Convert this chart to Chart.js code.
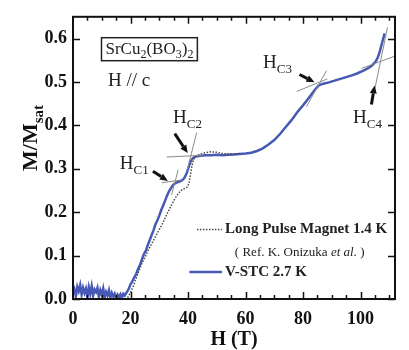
<!DOCTYPE html>
<html>
<head>
<meta charset="utf-8">
<script src="https://cdn.jsdelivr.net/npm/chart.js@4.4.1/dist/chart.umd.min.js"></script>
<style>
    html, body { margin: 0; padding: 0; background: #fff; }
</style>
</head>
<body>
<canvas id="chart" width="409" height="350"></canvas>
<script>
// V-STC 2.7 K run: field (T) and M/Msat
const stcField = [
    0, 0.5, 1, 1.5, 2, 2.5, 3, 3.5, 4, 4.5, 5, 5.5, 6, 6.5, 7, 7.5, 8, 8.5, 9, 9.5,
    10, 10.5, 11, 11.5, 12, 12.5, 13, 13.5, 14, 14.5, 15, 15.5, 16, 16.5, 17, 17.5, 18,
    18.7, 19.3, 20, 20.6, 21.2, 22, 22.7, 23.4, 24, 24.7, 25.4, 26, 26.7, 27.4, 28, 28.7,
    29.4, 30, 30.7, 31.4, 32, 32.7, 33.4, 34, 34.7, 35.4, 36, 36.8, 37.6, 38.4, 39, 39.6,
    40.2, 40.8, 41.4, 42, 43, 44.5, 46, 48, 50, 52, 54, 56, 58, 60, 62, 64, 66, 68, 70,
    72, 74, 76, 78, 80, 82, 84, 85.5, 87, 89, 91, 93, 95, 97, 99, 101, 102.5, 104,
    105.2, 106, 106.7, 107.3, 107.9, 108.4
];
const stcMag = [
    0.012, 0.022, 0.006, 0.028, 0.018, 0.032, 0.010, 0.026, 0.014, 0.024, 0.004, 0.027,
    0.012, 0.030, 0.008, 0.022, 0.016, 0.026, 0.005, 0.020, 0.010, 0.024, 0.003, 0.016,
    0.008, 0.020, 0.002, 0.014, 0.006, 0.012, 0.001, 0.010, 0.004, 0.011, 0.003, 0.012, 0.008,
    0.016, 0.022, 0.034, 0.040, 0.048, 0.058, 0.070, 0.080, 0.092, 0.104, 0.112, 0.124,
    0.136, 0.148, 0.158, 0.172, 0.182, 0.192, 0.205, 0.216, 0.226, 0.238, 0.248, 0.255,
    0.262, 0.266, 0.268, 0.270, 0.272, 0.276, 0.282, 0.291, 0.303, 0.315, 0.322, 0.326,
    0.329, 0.330, 0.331, 0.331, 0.332, 0.331, 0.332, 0.333, 0.334, 0.335, 0.337, 0.341,
    0.347, 0.356, 0.366, 0.380, 0.396, 0.412, 0.430, 0.446, 0.463, 0.481, 0.492, 0.496,
    0.499, 0.503, 0.507, 0.511, 0.515, 0.520, 0.526, 0.531, 0.538, 0.546, 0.556, 0.570,
    0.585, 0.600, 0.612
];

// Long pulse magnet 1.4 K (Onizuka et al.)
const lpField = [
    19, 20, 21, 22, 23, 24, 25, 26, 27, 28, 29, 30, 31, 32, 33, 34, 35, 36, 37, 38, 39,
    39.8, 40.4, 40.9, 41.4, 42, 43, 44.5, 46, 48, 50, 52, 54, 56, 58
];
const lpMag = [
    0.003, 0.015, 0.030, 0.048, 0.066, 0.082, 0.096, 0.110, 0.123, 0.135, 0.148, 0.160,
    0.172, 0.186, 0.200, 0.213, 0.226, 0.237, 0.246, 0.252, 0.255, 0.258, 0.268, 0.288,
    0.308, 0.322, 0.330, 0.334, 0.337, 0.339, 0.338, 0.335, 0.334, 0.334, 0.335
];

// tangent lines at the critical fields: [H1, M1, H2, M2]
const tangents = [
    [30.8, 0.268, 37.8, 0.274], [34.3, 0.240, 36.6, 0.298],
    [32.6, 0.327, 45.1, 0.331], [39.6, 0.294, 43.0, 0.383],
    [77.8, 0.478, 88.5, 0.507], [81.2, 0.443, 88.2, 0.526],
    [100.3, 0.531, 111.8, 0.559], [104.9, 0.481, 109.4, 0.626]
];

// critical field labels and arrows (data units)
const hcNames = ['C1', 'C2', 'C3', 'C4'];
const hcLabelPos = [[16.3, 0.300], [34.8, 0.405], [66.1, 0.532], [97.4, 0.405]];
const arrowFrom = [[27.8, 0.294], [35.4, 0.381], [78.8, 0.517], [103.8, 0.448]];
const arrowTo = [[33.0, 0.272], [39.9, 0.336], [84.0, 0.499], [104.9, 0.492]];

const xTicks = [0, 20, 40, 60, 80, 100];
const yTicks = [0, 0.1, 0.2, 0.3, 0.4, 0.5, 0.6];

const SERIF = '"Liberation Serif", "Times New Roman", serif';
const BLUE = '#4659b4';

function toPoints(xs, ys) {
    return xs.map((v, i) => ({ x: v, y: ys[i] }));
}

// draw a run of text pieces, some as subscripts or italics
function drawParts(ctx, parts, x0, y0, size, subSize, weight) {
    let cx = x0;
    parts.forEach(p => {
        const s = p.sub ? subSize : size;
        ctx.font = `${p.italic ? 'italic ' : ''}${weight || 'normal'} ${s}px ${SERIF}`;
        ctx.fillText(p.t, cx, y0 + (p.sub ? size * 0.27 : 0));
        cx += ctx.measureText(p.t).width;
    });
    return cx - x0;
}

function drawArrow(ctx, x1, y1, x2, y2) {
    const ang = Math.atan2(y2 - y1, x2 - x1);
    const head = 8;
    ctx.beginPath();
    ctx.lineWidth = 3;
    ctx.moveTo(x1, y1);
    ctx.lineTo(x2 - head * Math.cos(ang), y2 - head * Math.sin(ang));
    ctx.stroke();
    ctx.beginPath();
    ctx.moveTo(x2, y2);
    ctx.lineTo(x2 - head * Math.cos(ang) + 3.5 * Math.sin(ang), y2 - head * Math.sin(ang) - 3.5 * Math.cos(ang));
    ctx.lineTo(x2 - head * Math.cos(ang) - 3.5 * Math.sin(ang), y2 - head * Math.sin(ang) + 3.5 * Math.cos(ang));
    ctx.closePath();
    ctx.fill();
}

const decor = {
    id: 'decor',
    afterDatasetsDraw(chart) {
        const { ctx, chartArea: a, scales: { x, y } } = chart;
        ctx.save();

        // frame
        ctx.strokeStyle = '#111';
        ctx.lineWidth = 2;
        ctx.strokeRect(a.left, a.top, a.right - a.left, a.bottom - a.top);

        // inward ticks
        ctx.lineWidth = 1.5;
        ctx.beginPath();
        yTicks.forEach(v => {
            const py = Math.round(y.getPixelForValue(v)) + 0.5;
            ctx.moveTo(a.left, py); ctx.lineTo(a.left + 7, py);
            ctx.moveTo(a.right, py); ctx.lineTo(a.right - 7, py);
        });
        for (let v = 5; v < 112; v += 5) {
            const px = Math.round(x.getPixelForValue(v)) + 0.5;
            const len = v % 20 === 0 ? 7 : 4;
            ctx.moveTo(px, a.bottom); ctx.lineTo(px, a.bottom - len);
            ctx.moveTo(px, a.top); ctx.lineTo(px, a.top + len);
        }
        ctx.stroke();

        // y axis title M/Msat
        ctx.fillStyle = '#111';
        ctx.save();
        ctx.translate(37, 138);
        ctx.rotate(-Math.PI / 2);
        ctx.textBaseline = 'alphabetic';
        ctx.font = `bold 22px ${SERIF}`;
        const w1 = ctx.measureText('M/M').width;
        ctx.font = `bold 15px ${SERIF}`;
        const w2 = ctx.measureText('sat').width;
        drawParts(ctx, [{ t: 'M/M' }, { t: 'sat', sub: true }], -(w1 + w2) / 2, 0, 22, 15, 'bold');
        ctx.restore();

        // sample label box
        ctx.fillStyle = '#222';
        ctx.textBaseline = 'alphabetic';
        const bx = x.getPixelForValue(11.3), by = y.getPixelForValue(0.565);
        const bw = drawParts(ctx, [
            { t: 'SrCu' }, { t: '2', sub: true }, { t: '(BO' }, { t: '3', sub: true },
            { t: ')' }, { t: '2', sub: true }
        ], bx, by, 17, 12);
        ctx.strokeStyle = '#222';
        ctx.lineWidth = 1.5;
        ctx.strokeRect(bx - 4, by - 16, bw + 8, 23);

        drawParts(ctx, [{ t: 'H // c' }], x.getPixelForValue(12.2), y.getPixelForValue(0.49), 19, 13);

        // critical field labels
        hcNames.forEach((n, i) => {
            drawParts(ctx, [{ t: 'H' }, { t: n, sub: true }],
                x.getPixelForValue(hcLabelPos[i][0]), y.getPixelForValue(hcLabelPos[i][1]), 19, 13);
        });

        // arrows
        ctx.strokeStyle = '#111';
        ctx.fillStyle = '#111';
        arrowFrom.forEach((f, i) => {
            drawArrow(ctx, x.getPixelForValue(f[0]), y.getPixelForValue(f[1]),
                x.getPixelForValue(arrowTo[i][0]), y.getPixelForValue(arrowTo[i][1]));
        });

        // legend
        const lx = x.getPixelForValue(43.1), lx2 = x.getPixelForValue(51.8);
        const ly1 = y.getPixelForValue(0.16), ly3 = y.getPixelForValue(0.062);
        ctx.lineWidth = 1.5;
        ctx.strokeStyle = '#444';
        ctx.setLineDash([1.5, 1.5]);
        ctx.beginPath(); ctx.moveTo(lx, ly1); ctx.lineTo(lx2, ly1); ctx.stroke();
        ctx.setLineDash([]);
        ctx.strokeStyle = BLUE;
        ctx.lineWidth = 2.5;
        ctx.beginPath(); ctx.moveTo(x.getPixelForValue(40.5), ly3); ctx.lineTo(lx2, ly3); ctx.stroke();

        ctx.fillStyle = '#222';
        ctx.textBaseline = 'middle';
        const tx = x.getPixelForValue(52.9);
        drawParts(ctx, [{ t: 'Long Pulse Magnet 1.4 K' }], tx, ly1, 15, 10, 'bold');
        drawParts(ctx, [{ t: '( Ref. K. Onizuka ' }, { t: 'et al.', italic: true }, { t: ' )' }],
            x.getPixelForValue(56.3), y.getPixelForValue(0.108), 13, 10);
        drawParts(ctx, [{ t: 'V-STC 2.7 K' }], tx, ly3, 15, 10, 'bold');

        ctx.restore();
    }
};

new Chart(document.getElementById('chart'), {
    type: 'line',
    data: {
        datasets: [
            ...tangents.map(t => ({
                data: [{ x: t[0], y: t[1] }, { x: t[2], y: t[3] }],
                borderColor: '#8a8a8a',
                borderWidth: 1,
                pointRadius: 0
            })),
            {
                label: 'Long Pulse Magnet 1.4 K',
                data: toPoints(lpField, lpMag),
                borderColor: '#4a4a4a',
                borderWidth: 1.5,
                borderDash: [1.5, 1.5],
                pointRadius: 0,
                tension: 0
            },
            {
                label: 'V-STC 2.7 K',
                data: toPoints(stcField, stcMag),
                borderColor: BLUE,
                borderWidth: 2.5,
                pointRadius: 0,
                tension: 0
            }
        ]
    },
    options: {
        responsive: false,
        animation: false,
        devicePixelRatio: 1,
        layout: { padding: { top: 7, right: 14, left: 0, bottom: 0 } },
        plugins: { legend: { display: false }, tooltip: { enabled: false } },
        scales: {
            x: {
                type: 'linear',
                min: 0,
                max: 112,
                afterFit: s => { s.height = 51; },
                afterBuildTicks: s => { s.ticks = xTicks.map(v => ({ value: v })); },
                grid: { display: false, drawTicks: false },
                border: { display: false },
                ticks: {
                    autoSkip: false,
                    maxRotation: 0,
                    padding: 10,
                    color: '#111',
                    font: { family: SERIF, size: 18, weight: 'bold' }
                },
                title: {
                    display: true,
                    text: 'H (T)',
                    color: '#111',
                    padding: { top: 0, bottom: 0 },
                    font: { family: SERIF, size: 20, weight: 'bold', lineHeight: 1 }
                }
            },
            y: {
                type: 'linear',
                min: 0,
                max: 0.65,
                afterFit: s => { s.width = 73; },
                afterBuildTicks: s => { s.ticks = yTicks.map(v => ({ value: v })); },
                grid: { display: false, drawTicks: false },
                border: { display: false },
                ticks: {
                    padding: 6,
                    color: '#111',
                    font: { family: SERIF, size: 18, weight: 'bold' },
                    callback: v => v.toFixed(1)
                }
            }
        }
    },
    plugins: [decor]
});
</script>
</body>
</html>
